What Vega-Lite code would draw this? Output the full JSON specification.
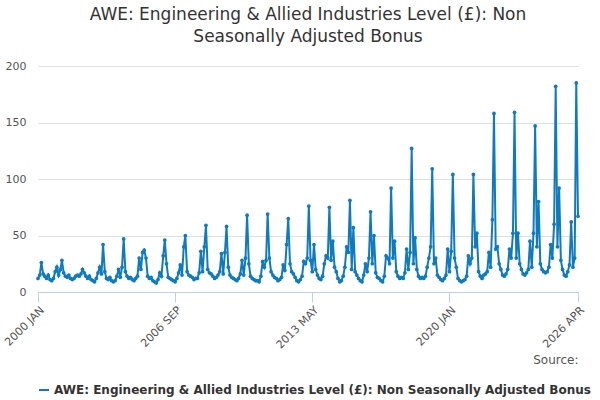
{
"$schema":"https://vega.github.io/schema/vega-lite/v6.json",
"width":600,"height":400,
"autosize":{"type":"fit","contains":"padding"},
"padding":{"left":2,"right":14,"top":6,"bottom":4},
"title":{"text":["AWE: Engineering & Allied Industries Level (£): Non","Seasonally Adjusted Bonus"],"font":"DejaVu Sans","fontSize":17,"fontWeight":"normal","color":"#333333","offset":14,"lineHeight":22},
"config":{"view":{"stroke":null},"font":"DejaVu Sans"},
"datasets":{"yearly":[
{"y":2000,"v":[12,15,26,16,14,12,15,11,10,12,18,22]},
{"y":2001,"v":[15,20,28,17,14,13,15,12,11,12,14,15]},
{"y":2002,"v":[14,16,20,17,14,12,14,11,10,9,12,17]},
{"y":2003,"v":[22,16,42,18,12,11,13,10,9,10,14,20]},
{"y":2004,"v":[13,22,47,18,14,12,13,11,10,12,14,30]},
{"y":2005,"v":[20,35,37,30,14,12,13,10,9,8,11,17]},
{"y":2006,"v":[14,32,46,25,13,12,11,10,9,12,17,24]},
{"y":2007,"v":[15,40,50,18,15,14,13,11,12,12,17,36]},
{"y":2008,"v":[18,40,59,20,17,16,14,12,13,15,18,34]},
{"y":2009,"v":[16,35,58,22,15,13,12,11,10,12,16,28]},
{"y":2010,"v":[15,30,68,25,14,12,11,10,10,9,14,27]},
{"y":2011,"v":[22,28,69,30,18,15,13,12,10,11,13,24]},
{"y":2012,"v":[19,42,65,25,18,16,13,10,9,11,14,27]},
{"y":2013,"v":[25,30,76,28,18,42,20,15,12,11,14,25]},
{"y":2014,"v":[32,30,75,28,45,22,18,12,9,10,14,22]},
{"y":2015,"v":[40,35,81,20,57,18,15,12,10,9,15,25]},
{"y":2016,"v":[18,30,71,25,50,17,13,12,10,9,14,32]},
{"y":2017,"v":[30,25,92,30,45,18,14,12,13,12,17,38]},
{"y":2018,"v":[20,35,127,25,48,20,14,12,13,12,14,22]},
{"y":2019,"v":[30,40,109,25,30,15,13,11,10,12,15,38]},
{"y":2020,"v":[18,36,104,30,22,12,10,9,10,11,14,32]},
{"y":2021,"v":[25,30,104,40,52,18,14,12,15,16,18,35]},
{"y":2022,"v":[22,64,158,38,40,25,20,15,14,16,20,38]},
{"y":2023,"v":[30,52,159,30,52,25,20,16,15,17,20,45]},
{"y":2024,"v":[22,52,147,40,80,25,20,18,17,18,22,42]},
{"y":2025,"v":[30,60,182,40,92,28,20,15,14,18,24,62]},
{"y":2026,"v":[22,30,185,67]}
]},
"data":{"name":"yearly"},
"transform":[
{"flatten":["v"],"as":["value"]},
{"window":[{"op":"row_number","as":"m"}],"groupby":["y"]},
{"calculate":"datetime(datum.y, datum.m-1, 1)","as":"date"},
{"calculate":"'AWE: Engineering & Allied Industries Level (£): Non Seasonally Adjusted Bonus'","as":"series"}
],
"mark":{"type":"line","point":{"filled":true,"size":14},"strokeWidth":2},
"encoding":{
"x":{"field":"date","type":"temporal","scale":{"domain":[{"year":2000,"month":1,"date":1},{"year":2026,"month":4,"date":1}]},
"axis":{"values":[{"year":2000,"month":1,"date":1},{"year":2006,"month":9,"date":1},{"year":2013,"month":5,"date":1},{"year":2020,"month":1,"date":1},{"year":2026,"month":4,"date":1}],
"labelExpr":"upper(timeFormat(datum.value,'%Y %b'))","labelAngle":-45,"labelFontSize":11,"labelColor":"#555555","grid":false,"domainColor":"#c0d0e0","tickColor":"#c0d0e0","tickSize":10,
"title":"Source:","titleAnchor":"end","titleFontWeight":"normal","titleFontSize":12,"titleColor":"#555555"}},
"y":{"field":"value","type":"quantitative","scale":{"domain":[0,200]},"axis":{"values":[0,50,100,150,200],"title":null,"domain":false,"ticks":false,"gridColor":"#e0e0e0","labelColor":"#555555","labelFontSize":11,"labelPadding":12}},
"color":{"field":"series","type":"nominal","scale":{"range":["#0d7bc0"]},"legend":{"orient":"bottom","title":null,"labelFontSize":12,"labelFontWeight":"bold","labelColor":"#333333","labelLimit":600,"symbolType":"stroke","symbolStrokeWidth":2}}
}
}
